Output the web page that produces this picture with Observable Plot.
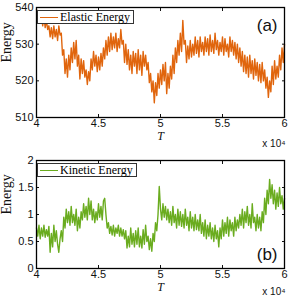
<!DOCTYPE html>
<html>
<head>
<meta charset="utf-8">
<script src="https://cdn.jsdelivr.net/npm/d3@7"></script>
<script src="https://cdn.jsdelivr.net/npm/@observablehq/plot@0.6"></script>
<style>
  html, body { margin: 0; padding: 0; background: #fff; }
  #wrap { position: relative; width: 290px; height: 297px; }
  #wrap svg { display: block; }
  .legend { position: absolute; border: 1px solid #333; background: #fff; font-family: "Liberation Serif", serif; font-size: 12px; line-height: 12px; height: 14px; box-sizing: border-box; padding: 0 2px 0 22px; white-space: nowrap; }
  .legend span.sw { position: absolute; left: 2px; top: 6px; width: 18px; height: 0; border-top: 1.5px solid; }
</style>
</head>
<body>
<div id="wrap"></div>
<script>
// Time axis (x 10^4), step 0.01
const xStart = 4, xStep = 0.01;
const xTicks = [4, 4.5, 5, 5.5, 6];

// Elastic energy values (panel a)
const elastic = [
  539.5, 537, 539, 536, 538, 535, 537.5, 534.5, 536.5, 534,
  535, 532, 534.5, 531.5, 535, 532, 534, 531, 535, 532.5,
  533, 527, 528.5, 522, 526, 521, 527, 523, 529, 525,
  530.5, 526, 531, 524, 527, 520.5, 526, 522, 525.5, 521,
  523, 519, 522.5, 520, 526, 523, 528, 524, 527, 522.5,
  526.5, 523, 527.5, 524, 529, 526, 531, 527, 532, 528,
  533, 528.5, 532, 529, 533, 528, 531.5, 529, 534, 530,
  531, 525, 530, 524.5, 528.5, 523, 527, 522, 528, 524,
  527.5, 522, 528.5, 523, 527, 521.5, 528, 524, 527, 523,
  525, 519.5, 522, 517, 520, 514, 519.5, 516, 522, 518,
  523, 519, 524.5, 520, 525, 516.5, 522, 518, 524, 520.5,
  527, 522, 529, 525, 531, 527, 533, 528, 536.5, 530,
  531, 525, 529.5, 526, 531, 526.5, 530, 527, 532, 527.5,
  531, 526.5, 532, 528, 530.5, 527, 532, 528, 531.5, 527,
  532.5, 528, 531, 527.5, 533, 528.5, 531, 527, 530.5, 528,
  532, 527, 531.5, 528, 530, 526.5, 532, 528, 531, 527,
  530.5, 526, 530, 525, 529, 524, 528, 522.5, 527, 522,
  526.5, 521, 527, 522, 525.5, 520.5, 526, 521.5, 525, 520,
  524.5, 519.5, 525, 520, 523, 518, 521, 515.5, 520, 517,
  524, 519, 525.5, 520.5, 524, 521, 527, 523, 529, 525,
  530
];

// Kinetic energy values (panel b)
const kinetic = [
  0.75, 0.6, 0.8, 0.55, 0.75, 0.6, 0.8, 0.58, 0.72, 0.6,
  0.78, 0.3, 0.65, 0.4, 0.8, 0.5, 0.7, 0.45, 0.3, 0.55,
  0.7, 0.5, 0.95, 0.75, 1.1, 0.85, 1.05, 0.8, 1.15, 0.85,
  1.0, 0.8, 1.1, 0.7, 0.95, 0.75, 1.05, 0.9, 1.2, 0.95,
  1.15, 0.9, 1.3, 1.0, 1.25, 0.9, 1.1, 0.85, 1.05, 0.9,
  1.2, 0.95, 1.15, 0.9, 1.25, 1.3, 1.0, 0.75, 0.85, 0.65,
  0.78, 0.62, 0.8, 0.6, 0.75, 0.65, 0.8, 0.6, 0.75, 0.6,
  0.72, 0.55, 0.7, 0.38, 0.6, 0.4, 0.75, 0.45, 0.65, 0.4,
  0.7, 0.45, 0.75, 0.4, 0.6, 0.38, 0.72, 0.45, 0.8, 0.5,
  0.6, 0.35, 0.55, 0.32, 0.65, 0.5, 0.85, 0.7, 1.0, 1.52,
  1.1, 0.9, 1.2, 0.95, 1.15, 0.9, 1.1, 0.85, 1.05, 0.8,
  1.15, 0.85, 1.0, 0.75, 1.1, 0.8, 1.05, 0.78, 1.0, 0.75,
  1.1, 0.8, 0.95, 0.7, 1.05, 0.75, 0.95, 0.7, 1.0, 0.72,
  0.9, 0.7, 1.0, 0.65, 0.85, 0.6, 0.9, 0.55, 0.8, 0.6,
  0.85, 0.55, 0.75, 0.5, 0.8, 0.55, 0.7, 0.4, 0.75, 0.55,
  0.9, 0.6, 0.85, 0.65, 0.95, 0.6, 0.9, 0.7, 0.85, 0.6,
  0.95, 0.7, 0.9, 0.75, 1.0, 0.8, 1.1, 0.75, 1.05, 0.85,
  1.15, 0.8, 1.0, 0.75, 1.2, 0.85, 0.95, 0.7, 1.0, 0.75,
  0.95, 0.7, 1.05, 0.85, 1.3, 1.0, 1.45, 1.2, 1.65, 1.3,
  1.55, 1.2, 1.45, 1.1, 1.4, 1.15, 1.5, 1.2, 1.35, 1.1,
  1.3
];

const panels = [
  {values: elastic, yDomain: [510, 540], yTicks: [510, 520, 530, 540], color: "#e0650d",
   name: "Elastic Energy", tag: "(a)", height: 150, marginTop: 7, marginBottom: 33, expDy: 26},
  {values: kinetic, yDomain: [0, 2], yTicks: [0, 0.5, 1, 1.5, 2], color: "#6aac1f",
   name: "Kinetic Energy", tag: "(b)", height: 147, marginTop: 10, marginBottom: 29, expDy: 23}
];

const sans = "Liberation Sans, Arial, sans-serif";
const serif = "Liberation Serif, Times New Roman, serif";
const wrap = document.getElementById("wrap");

panels.forEach((p, k) => {
  const data = p.values.map((v, i) => ({t: +(xStart + i * xStep).toFixed(2), e: v}));
  const chart = Plot.plot({
    width: 290,
    height: p.height,
    marginLeft: 36,
    marginRight: 6,
    marginTop: p.marginTop,
    marginBottom: p.marginBottom,
    style: {fontFamily: sans, fontSize: "11px", color: "#111", background: "#fff", overflow: "visible"},
    x: {domain: [4, 6]},
    y: {domain: p.yDomain},
    marks: [
      Plot.line(data, {x: "t", y: "e", stroke: p.color, strokeWidth: 1.4}),
      Plot.axisX(xTicks, {anchor: "bottom", tickSize: 0, tickPadding: 2, fontSize: 11, tickFormat: d => String(d), label: null}),
      Plot.axisX(xTicks, {anchor: "bottom", tickSize: -3, text: null, label: null}),
      Plot.axisX(xTicks, {anchor: "top", tickSize: -3, text: null, label: null}),
      Plot.axisY(p.yTicks, {anchor: "left", tickSize: 0, tickPadding: 3, fontSize: 11, tickFormat: d => String(d), label: null}),
      Plot.axisY(p.yTicks, {anchor: "left", tickSize: -3, text: null, label: null}),
      Plot.axisY(p.yTicks, {anchor: "right", tickSize: -3, text: null, label: null}),
      Plot.frame({stroke: "#000", strokeWidth: 1.3}),
      Plot.text(["Energy"], {frameAnchor: "left", lineAnchor: "middle", rotate: -90, dx: -30, fontFamily: serif, fontSize: 14}),
      Plot.text(["T"], {frameAnchor: "bottom", lineAnchor: "middle", dy: 19, fontFamily: serif, fontStyle: "italic", fontSize: 12}),
      Plot.text(["x 10\u2074"], {frameAnchor: "bottom-right", lineAnchor: "middle", textAnchor: "end", dx: 1, dy: p.expDy, fontFamily: sans, fontSize: 10}),
      Plot.text([p.tag], {frameAnchor: k === 0 ? "top-right" : "bottom-right", lineAnchor: "middle", textAnchor: "end", dx: -7, dy: k === 0 ? 18 : -14, fontFamily: sans, fontSize: 17})
    ]
  });
  wrap.appendChild(chart);
});

// Legends
const legends = [
  {name: panels[0].name, color: panels[0].color, left: 37, top: 10, width: 97},
  {name: panels[1].name, color: panels[1].color, left: 37, top: 163, width: 100}
];
legends.forEach(l => {
  const d = document.createElement("div");
  d.className = "legend";
  d.style.left = l.left + "px";
  d.style.top = l.top + "px";
  d.style.width = l.width + "px";
  d.innerHTML = `<span class="sw" style="border-color:${l.color}"></span>${l.name}`;
  wrap.appendChild(d);
});
</script>
</body>
</html>
